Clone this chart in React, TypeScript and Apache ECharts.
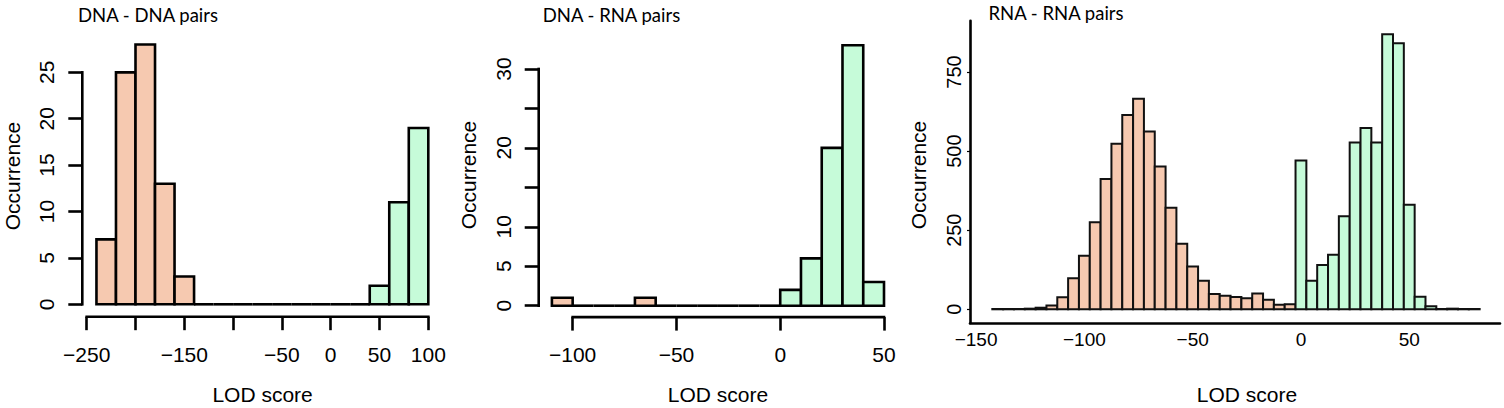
import React, { useEffect, useRef } from 'react';
import * as echarts from 'echarts';

// ---- Data ----
const titles = ['DNA - DNA pairs', 'DNA - RNA pairs', 'RNA - RNA pairs'];
const xName = 'LOD score';
const yName = 'Occurrence';

// Panel 1: DNA - DNA (bin edges, width 20)
const dnaDnaBinEdges = [-240, -220, -200, -180, -160, -140, -120, -100, -80, -60, -40, -20, 0, 20, 40, 60, 80, 100];
const dnaDnaCounts = [7, 25, 28, 13, 3, 0, 0, 0, 0, 0, 0, 0, 0, 0, 2, 11, 19];
const dnaDnaXTicks = [-250, -200, -150, -100, -50, 0, 50, 100];
const dnaDnaXLabels = [-250, -150, -50, 0, 50, 100];
const dnaDnaYTicks = [0, 5, 10, 15, 20, 25];

// Panel 2: DNA - RNA (bin edges, width 10)
const dnaRnaBinEdges = [-110, -100, -90, -80, -70, -60, -50, -40, -30, -20, -10, 0, 10, 20, 30, 40, 50];
const dnaRnaCounts = [1, 0, 0, 0, 1, 0, 0, 0, 0, 0, 0, 2, 6, 20, 33, 3];
const dnaRnaXTicks = [-100, -50, 0, 50];
const dnaRnaYTicks = [0, 5, 10, 15, 20, 25, 30];
const dnaRnaYLabels = [0, 5, 10, 20, 30];

// Panel 3: RNA - RNA (bin centers, width 5)
const rnaRnaBinCenters = [-140, -135, -130, -125, -120, -115, -110, -105, -100, -95, -90, -85, -80, -75, -70, -65, -60, -55, -50, -45, -40, -35, -30, -25, -20, -15, -10, -5, 0, 5, 10, 15, 20, 25, 30, 35, 40, 45, 50, 55, 60, 65, 70, 75, 80];
const rnaRnaCounts = [1, 1, 1, 2, 5, 12, 38, 98, 169, 275, 412, 523, 614, 665, 562, 451, 321, 207, 135, 90, 48, 43, 39, 35, 50, 30, 14, 16, 470, 90, 140, 172, 294, 527, 573, 527, 869, 841, 330, 40, 10, 1, 2, 1, 1];
const rnaRnaBinWidth = 5;
const rnaRnaXLabels = [-150, -100, -50, 0, 50];
const rnaRnaYTicks = [0, 250, 500, 750];

// ---- Styles ----
const ORANGE = '#F6C9B0';
const GREEN = '#C6FBD9';
const FONT = '"Liberation Sans", Arial, Helvetica, sans-serif';
const TITLE_FONT = 'Lato, "Open Sans", sans-serif';

const fmt = (v: number) => (v < 0 ? '\u2212' + Math.abs(v) : String(v));

function binsFromEdges(edges: number[], counts: number[]) {
  return counts.map((c, i) => [edges[i], edges[i + 1], c]);
}
function binsFromCenters(centers: number[], counts: number[], w: number) {
  return counts.map((c, i) => [centers[i] - w / 2, centers[i] + w / 2, c]);
}

function histSeries(idx: number, data: number[][], lw: number, stroke: string) {
  return {
    type: 'custom',
    xAxisIndex: idx,
    yAxisIndex: idx,
    clip: false,
    encode: { x: [0, 1], y: 2 },
    data,
    renderItem: (params: any, api: any) => {
      const x0 = api.value(0);
      const x1 = api.value(1);
      const v = api.value(2);
      const p0 = api.coord([x0, 0]);
      const p1 = api.coord([x1, v]);
      if (v === 0) {
        return {
          type: 'line',
          shape: { x1: p0[0], y1: p0[1], x2: p1[0], y2: p0[1] },
          style: { stroke, lineWidth: lw },
        };
      }
      const fill = (x0 + x1) / 2 >= 0 ? GREEN : ORANGE;
      return {
        type: 'rect',
        shape: { x: p0[0], y: p1[1], width: p1[0] - p0[0], height: p0[1] - p1[1] },
        style: { fill, stroke, lineWidth: lw },
      };
    },
  };
}

// R-style detached axis lines spanning first..last tick
function axisLinesSeries(idx: number, xTicks: number[], yTicks: number[], xMin: number, yOff: number, xOff: number) {
  return {
    type: 'custom',
    xAxisIndex: idx,
    yAxisIndex: idx,
    clip: false,
    silent: true,
    data: [[0]],
    renderItem: (params: any, api: any) => {
      const a = api.coord([xMin, yTicks[0]]);
      const b = api.coord([xMin, yTicks[yTicks.length - 1]]);
      const c = api.coord([xTicks[0], 0]);
      const d = api.coord([xTicks[xTicks.length - 1], 0]);
      const st = { stroke: '#000', lineWidth: 2.6, lineCap: 'square' };
      return {
        type: 'group',
        children: [
          { type: 'line', shape: { x1: a[0] - yOff, y1: a[1], x2: b[0] - yOff, y2: b[1] }, style: st },
          { type: 'line', shape: { x1: c[0], y1: c[1] + xOff, x2: d[0], y2: d[1] + xOff }, style: st },
        ],
      };
    },
  };
}

const tickStyle = { color: '#000', width: 2.6 };

function App() {
  const ref = useRef<HTMLDivElement>(null);
  useEffect(() => {
    if (!ref.current) return;
    const chart = echarts.init(ref.current, null, { renderer: 'svg' });

    const p1 = { left: 86.7, top: 44.5, width: 341.6, height: 259.8, yOff: 4.4, xOff: 12.4 };
    const p2 = { left: 551.9, top: 45.3, width: 332.1, height: 260.4, yOff: 13.2, xOff: 11.4 };
    const p3 = { left: 970, top: 20.7, width: 530, height: 302.3 };

    const axisText = (size: number, margin: number) => ({
      color: '#000',
      fontFamily: FONT,
      fontSize: size,
      margin,
      formatter: fmt,
    });
    const hiddenLine = { show: false, onZero: false };

    const option: any = {
      animation: false,
      backgroundColor: '#fff',
      grid: [
        { left: p1.left, top: p1.top, width: p1.width, height: p1.height },
        { left: p2.left, top: p2.top, width: p2.width, height: p2.height },
        { left: p3.left, top: p3.top, width: p3.width, height: p3.height },
      ],
      xAxis: [
        {
          gridIndex: 0, type: 'value', min: -250, max: 100, position: 'bottom', offset: p1.xOff,
          axisLine: hiddenLine, splitLine: { show: false },
          axisTick: { show: true, length: 13.5, lineStyle: tickStyle, customValues: dnaDnaXTicks },
          axisLabel: { ...axisText(21, 27), customValues: dnaDnaXLabels },
        },
        {
          gridIndex: 1, type: 'value', min: -110, max: 50, position: 'bottom', offset: p2.xOff,
          axisLine: hiddenLine, splitLine: { show: false },
          axisTick: { show: true, length: 13.5, lineStyle: tickStyle, customValues: dnaRnaXTicks },
          axisLabel: { ...axisText(21, 27), customValues: dnaRnaXTicks },
        },
        {
          gridIndex: 2, type: 'value', min: -152.8, max: 91.9, position: 'bottom',
          axisLine: { show: true, onZero: false, lineStyle: { color: '#000', width: 2.6 } },
          splitLine: { show: false },
          axisTick: { show: false },
          axisLabel: { ...axisText(19, 7), customValues: rnaRnaXLabels },
        },
      ],
      yAxis: [
        {
          gridIndex: 0, type: 'value', min: 0, max: 28, position: 'left', offset: p1.yOff,
          axisLine: hiddenLine, splitLine: { show: false },
          axisTick: { show: true, length: 14, lineStyle: tickStyle, customValues: dnaDnaYTicks },
          axisLabel: { ...axisText(21, 25), rotate: 90, customValues: dnaDnaYTicks },
        },
        {
          gridIndex: 1, type: 'value', min: 0, max: 33, position: 'left', offset: p2.yOff,
          axisLine: hiddenLine, splitLine: { show: false },
          axisTick: { show: true, length: 14, lineStyle: tickStyle, customValues: dnaRnaYTicks },
          axisLabel: { ...axisText(21, 25), rotate: 90, customValues: dnaRnaYLabels },
        },
        {
          gridIndex: 2, type: 'value', min: -43.3, max: 912, position: 'left',
          axisLine: { show: true, onZero: false, lineStyle: { color: '#000', width: 2.6 } },
          splitLine: { show: false },
          axisTick: { show: true, length: 3, lineStyle: { color: '#000', width: 1.2 }, customValues: rnaRnaYTicks },
          axisLabel: { ...axisText(20, 6), rotate: 90, customValues: rnaRnaYTicks },
        },
      ],
      series: [
        histSeries(0, binsFromEdges(dnaDnaBinEdges, dnaDnaCounts), 2.6, '#000'),
        histSeries(1, binsFromEdges(dnaRnaBinEdges, dnaRnaCounts), 2.6, '#000'),
        histSeries(2, binsFromCenters(rnaRnaBinCenters, rnaRnaCounts, rnaRnaBinWidth), 2, '#111'),
        axisLinesSeries(0, dnaDnaXTicks, dnaDnaYTicks, -250, p1.yOff, p1.xOff),
        axisLinesSeries(1, dnaRnaXTicks, dnaRnaYTicks, -110, p2.yOff, p2.xOff),
      ],
      graphic: [
        ...[
          { x: 78, y: 15 },
          { x: 542.7, y: 15 },
          { x: 988.5, y: 13.3 },
        ].map((p, i) => ({
          type: 'text', x: p.x, y: p.y,
          style: { text: titles[i], fill: '#000', font: `18.5px ${TITLE_FONT}`, textAlign: 'left', textVerticalAlign: 'middle' },
        })),
        ...[
          { x: 12.3, y: 176 },
          { x: 468, y: 175 },
          { x: 918, y: 175 },
        ].map((p) => ({
          type: 'text', x: p.x, y: p.y, rotation: Math.PI / 2,
          style: { text: yName, fill: '#000', font: `21px ${FONT}`, textAlign: 'center', textVerticalAlign: 'middle' },
        })),
        ...[
          { x: 262.6, y: 394 },
          { x: 718, y: 394 },
          { x: 1247, y: 394 },
        ].map((p) => ({
          type: 'text', x: p.x, y: p.y,
          style: { text: xName, fill: '#000', font: `21px ${FONT}`, textAlign: 'center', textVerticalAlign: 'middle' },
        })),
      ],
    };
    chart.setOption(option);
    return () => chart.dispose();
  }, []);
  return <div ref={ref} style={{ position: 'absolute', left: 0, top: 0, width: 1504, height: 408 }} />;
}

export default App;
